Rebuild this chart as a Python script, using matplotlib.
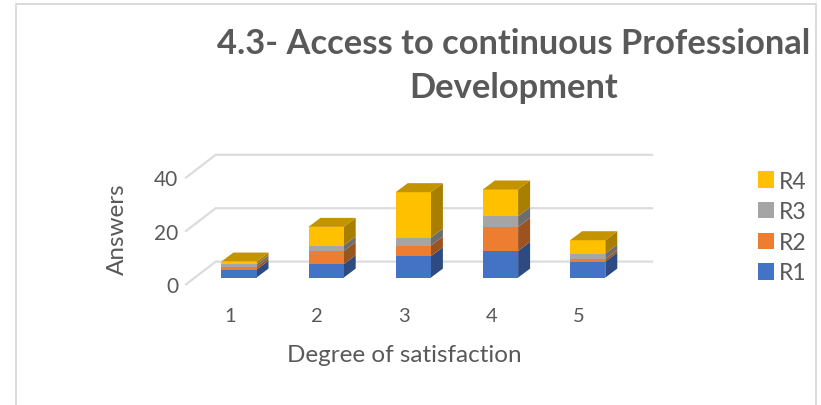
import matplotlib
matplotlib.use("Agg")
import matplotlib.pyplot as plt
from matplotlib.patches import Polygon, Patch
from matplotlib.lines import Line2D
from matplotlib.transforms import ScaledTranslation
from matplotlib.colors import to_rgb

categories = [1, 2, 3, 4, 5]
R1 = [3, 5, 8, 10, 6]
R2 = [1, 5, 4, 9, 1]
R3 = [1, 2, 3, 4, 2]
R4 = [1, 7, 17, 10, 5]
series_names = ["R1", "R2", "R3", "R4"]
series_values = [R1, R2, R3, R4]
colors = ["#4472C4", "#ED7D31", "#A5A5A5", "#FFC000"]
y_ticks = [0, 20, 40]
title = "4.3- Access to continuous Professional\nDevelopment"

W, H = 821, 406
plt.rcParams["font.family"] = ["Lato", "DejaVu Sans"]
fig = plt.figure(figsize=(W / 100, H / 100), dpi=100)
fig.patch.set_facecolor("white")

# plot region in pixels
L, R_, T, B = 186, 652, 150, 290
Y0 = 278.6
ax = fig.add_axes([L / W, 1 - B / H, (R_ - L) / W, (B - T) / H])
px_x, px_y = 87.2, 2.67
ax.set_xlim(1 + (L - 238.9) / px_x, 1 + (R_ - 238.9) / px_x)
ax.set_ylim(-(B - Y0) / px_y, (Y0 - T) / px_y)
ax.patch.set_alpha(0)
for s in ax.spines.values():
    s.set_visible(False)

DX, DY = 12 / px_x, 9 / px_y            # bar depth
half = 17.6 / px_x                      # half bar width
fx0, fy = ax.get_xlim()[0], -6.8 / px_y # front wall offset
bx0, by = fx0 + 29.7 / px_x, 16.0 / px_y

grid = "#DCDCDC"
for v in y_ticks:
    ax.plot([fx0, bx0, ax.get_xlim()[1]], [v + fy, v + by, v + by],
            color=grid, lw=1.6, zorder=1, solid_joinstyle="miter", clip_on=False)

def shade(c, f):
    r, g, b = to_rgb(c)
    return (r * f, g * f, b * f)

z = 3
for i, x in enumerate(categories):
    base = 0
    for vals, c in zip(series_values, colors):
        v = vals[i]
        top = base + v
        l, r = x - half, x + half
        ax.add_patch(Polygon([(r, base), (r + DX, base + DY), (r + DX, top + DY), (r, top)],
                             fc=shade(c, 0.66), ec="none", zorder=z))
        ax.add_patch(Polygon([(l, base), (r, base), (r, top), (l, top)],
                             fc=c, ec="none", zorder=z + 0.1))
        base = top
    ax.add_patch(Polygon([(l, base), (r, base), (r + DX, base + DY), (l + DX, base + DY)],
                         fc=shade(colors[-1], 0.77), ec="none", zorder=z + 0.2))
    z += 1

text_c = "#595959"
ax.set_xticks(categories)
ax.set_xticklabels([str(c) for c in categories], fontsize=14.5, color=text_c)
ax.set_yticks(y_ticks)
ax.set_yticklabels([str(v) for v in y_ticks], fontsize=15, color=text_c)
ax.tick_params(length=0, pad=0)
off_x = ScaledTranslation(-9 / 100, -18 / 100, fig.dpi_scale_trans)
for lab in ax.get_xticklabels():
    lab.set_transform(lab.get_transform() + off_x)
off_y = ScaledTranslation(-8 / 100, -6.5 / 100, fig.dpi_scale_trans)
for lab in ax.get_yticklabels():
    lab.set_transform(lab.get_transform() + off_y)

fig.text(404 / W, 1 - 356 / H, "Degree of satisfaction", ha="center", va="center",
         fontsize=17.5, color=text_c)
fig.text(117 / W, 1 - 229 / H, "Answers", ha="center", va="center", rotation=90,
         fontsize=17.5, color=text_c)
fig.text(514 / W, 1 - 66 / H, title, ha="center", va="center", fontsize=24.8,
         fontweight="bold", color=text_c, linespacing=1.47, multialignment="center")

handles = [Patch(fc=c, ec="none") for c in colors[::-1]]
fig.legend(handles, series_names[::-1], loc="center left",
           bbox_to_anchor=(758 / W, 1 - 228 / H), frameon=False, fontsize=16.5,
           labelcolor=text_c, handlelength=0.71, handleheight=0.71,
           handletextpad=0.2, labelspacing=0.42, borderpad=0, borderaxespad=0)

frame = "#D9D9D9"
fig.add_artist(Line2D([16 / W, 16 / W, 816 / W, 816 / W],
                      [0, 1 - 5 / H, 1 - 5 / H, 0], color=frame, lw=1.4))

fig.savefig("out.png", dpi=100)
